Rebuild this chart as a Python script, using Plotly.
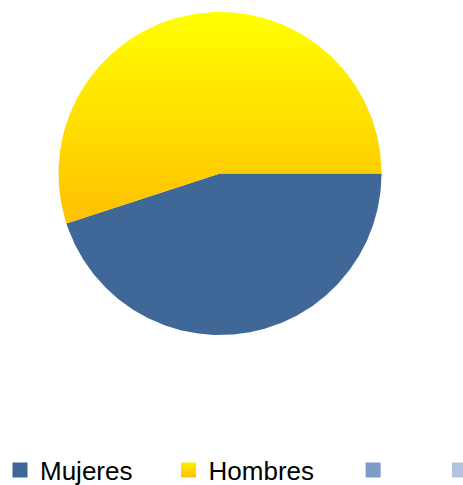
import numpy as np
import plotly.graph_objects as go

# Share of each group (percent)
labels = ["Mujeres", "Hombres"]
values = [45, 55]
slice_colors = ["#3F6797", "#FFFF00"]

# Legend entries (two extra unnamed series appear only in the legend)
legend_names = ["Mujeres", "Hombres", "", ""]
legend_colors = ["#3F6797", "#FFFF00", "#7F9BC7", "#B3C3DE"]
# trailing spacing after each name widens the legend entry
NB, THIN, HAIR = "\u00a0", "\u2009", "\u200a"
legend_pad = [NB * 4 + HAIR, NB * 4 + THIN, NB * 5 + THIN, NB]

fig = go.Figure()

# Build each wedge clockwise starting at 3 o'clock
total = float(sum(values))
start = 0.0
for i, (lab, val) in enumerate(zip(labels, values)):
    sweep = 2 * np.pi * val / total
    theta = np.linspace(start, start + sweep, 240)
    xs = np.concatenate([[0.0], np.cos(-theta), [0.0]])
    ys = np.concatenate([[0.0], np.sin(-theta), [0.0]])
    kw = dict(fillcolor=slice_colors[i])
    if lab == "Hombres":
        kw = dict(fillgradient=dict(type="vertical",
                                    colorscale=[[0, "#FFC000"], [1, "#FFFF00"]]))
    fig.add_trace(go.Scatter(x=xs, y=ys, mode="lines", fill="toself",
                             line=dict(width=0), showlegend=False,
                             hoverinfo="skip", name=lab, **kw))
    start += sweep

for name, col, pad in zip(legend_names, legend_colors, legend_pad):
    mk = dict(symbol="square", size=15, color=col, line=dict(width=0))
    if name == "Hombres":
        mk["color"] = "#FFEE00"
        mk["gradient"] = dict(type="vertical", color="#FFC000")
    fig.add_trace(go.Scatter(x=[None], y=[None], mode="markers", marker=mk,
                             name=name + pad, showlegend=True))

R_PX = 161.5          # pie radius in px
CX, CY = 220.0, 173.5  # pie centre in px
W, H = 540, 485        # figure is wider than the visible page; the legend runs off the right edge

fig.update_layout(
    width=W, height=H,
    margin=dict(l=0, r=0, t=0, b=0, autoexpand=False),
    paper_bgcolor="white", plot_bgcolor="white",
    xaxis=dict(range=[-CX / R_PX, (W - CX) / R_PX], visible=False, fixedrange=True),
    yaxis=dict(range=[-(H - CY) / R_PX, CY / R_PX], visible=False, fixedrange=True),
    legend=dict(orientation="h", x=0, xanchor="left", y=(H - 470) / H, yanchor="middle",
                font=dict(family="Liberation Sans, Arial", size=26, color="#000000"),
                bgcolor="rgba(0,0,0,0)"),
    showlegend=True,
)

fig.write_html(
    "out.html",
    config={"displayModeBar": False},
    post_script="document.documentElement.style.overflow='hidden';"
                "document.body.style.overflow='hidden';",
)
